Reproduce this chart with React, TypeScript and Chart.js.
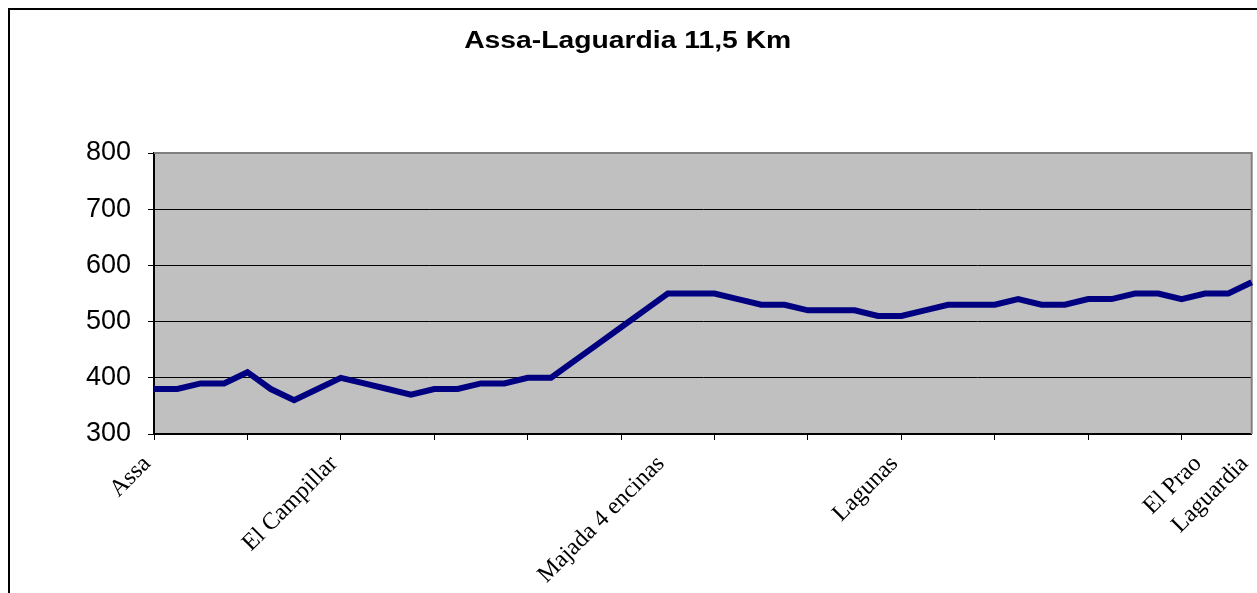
import React, { useEffect, useRef } from "react";
import { Chart, registerables } from "chart.js";

Chart.register(...registerables);

const TITLE = "Assa-Laguardia 11,5 Km";

const categories: string[] = [
  "Assa", "", "", "", "", "", "", "",
  "El Campillar", "", "", "", "", "", "", "",
  "", "", "", "", "", "", "Majada 4 encinas", "",
  "", "", "", "", "", "", "", "",
  "Lagunas", "", "", "", "", "", "", "",
  "", "", "", "", "", "El Prao", "", "Laguardia",
];

const altitude: number[] = [
  380, 380, 390, 390, 410, 380, 360, 380,
  400, 390, 380, 370, 380, 380, 390, 390,
  400, 400, 430, 460, 490, 520, 550, 550,
  550, 540, 530, 530, 520, 520, 520, 510,
  510, 520, 530, 530, 530, 540, 530, 530,
  540, 540, 550, 550, 540, 550, 550, 570,
];

const yTicks: number[] = [300, 400, 500, 600, 700, 800];

const CANVAS_W = 1247;
const CANVAS_H = 583;

export default function App() {
  const ref = useRef<HTMLCanvasElement | null>(null);

  useEffect(() => {
    if (!ref.current) return;

    const plotBg = {
      id: "plotBg",
      beforeDraw(chart: any) {
        const { ctx, chartArea: a } = chart;
        ctx.save();
        ctx.fillStyle = "#C0C0C0";
        ctx.fillRect(a.left, a.top, a.right - a.left, a.bottom - a.top);
        ctx.restore();
      },
      beforeDatasetsDraw(chart: any) {
        const { ctx, chartArea: a } = chart;
        ctx.save();
        ctx.strokeStyle = "#808080";
        ctx.lineWidth = 2;
        ctx.beginPath();
        ctx.moveTo(a.left, a.top);
        ctx.lineTo(a.right, a.top);
        ctx.lineTo(a.right, a.bottom);
        ctx.stroke();
        ctx.restore();
      },
    };

    const stretchedTitle = {
      id: "stretchedTitle",
      afterDraw(chart: any) {
        const ctx = chart.ctx;
        ctx.save();
        ctx.font = 'bold 23px "Liberation Sans", Arial, sans-serif';
        ctx.fillStyle = "#000";
        ctx.textAlign = "center";
        ctx.textBaseline = "alphabetic";
        ctx.translate(617.7, 38);
        ctx.scale(1.23, 1);
        ctx.fillText(TITLE, 0, 0);
        ctx.restore();
      },
    };

    const chart = new Chart(ref.current, {
      type: "line",
      data: {
        labels: categories,
        datasets: [
          {
            data: altitude,
            borderColor: "#000080",
            borderWidth: 6,
            pointRadius: 0,
            pointHoverRadius: 0,
            tension: 0,
            fill: false,
            borderJoinStyle: "miter",
            borderCapStyle: "butt",
          },
        ],
      },
      options: {
        responsive: false,
        animation: false,
        events: [],
        layout: { padding: { left: 75, right: 5.3, top: 143, bottom: 0 } },
        plugins: {
          legend: { display: false },
          title: { display: false },
          tooltip: { enabled: false },
        },
        scales: {
          x: {
            type: "category",
            offset: false,
            grid: {
              display: true,
              drawOnChartArea: false,
              drawTicks: true,
              tickLength: 6,
              tickWidth: 1,
              tickColor: (ctx: any) => (ctx.index % 4 === 0 ? "#000" : "rgba(0,0,0,0)"),
            },
            border: { display: true, color: "#000", width: 2 },
            ticks: {
              autoSkip: false,
              maxRotation: 45,
              minRotation: 45,
              padding: 10,
              labelOffset: -7,
              color: "#000",
              font: { family: '"Liberation Serif", "Times New Roman", serif', size: 24 },
            },
            afterFit(scale: any) {
              scale.height = CANVAS_H - 424;
              scale.paddingLeft = 0;
              scale.paddingRight = 0;
            },
          },
          y: {
            min: 300,
            max: 800,
            afterBuildTicks(scale: any) {
              scale.ticks = yTicks.map((v) => ({ value: v }));
            },
            grid: {
              color: (ctx: any) =>
                ctx.tick && (ctx.tick.value === 800 || ctx.tick.value === 300) ? "rgba(0,0,0,0)" : "#000",
              lineWidth: 1,
              drawTicks: true,
              tickLength: 6,
              tickColor: "#000",
              tickWidth: 1,
            },
            border: { display: true, color: "#000", width: 2 },
            ticks: {
              padding: 17,
              color: "#000",
              font: { family: '"Liberation Sans", Arial, sans-serif', size: 27 },
            },
            afterFit(scale: any) {
              scale.width = 69;
              scale.paddingTop = 0;
              scale.paddingBottom = 0;
            },
          },
        },
      },
      plugins: [plotBg, stretchedTitle],
    });

    return () => chart.destroy();
  }, []);

  return (
    <div
      style={{
        position: "fixed",
        left: 8,
        top: 8,
        right: 0,
        bottom: 0,
        borderLeft: "2px solid #000",
        borderTop: "2px solid #000",
        background: "#fff",
        overflow: "hidden",
      }}
    >
      <canvas ref={ref} width={CANVAS_W} height={CANVAS_H} style={{ display: "block" }} />
    </div>
  );
}
